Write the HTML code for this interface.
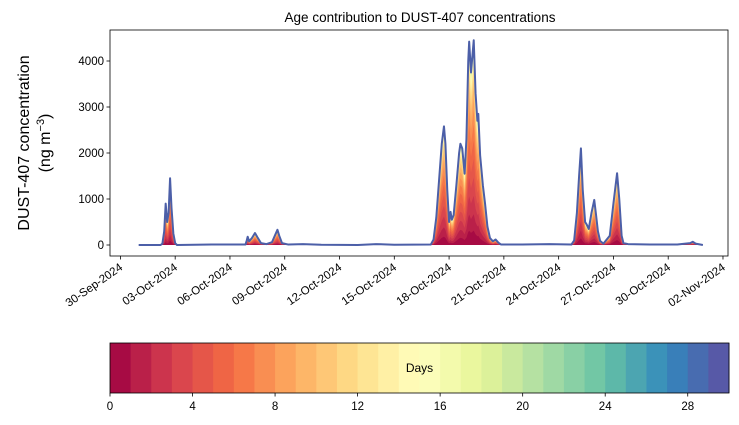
<!DOCTYPE html>
<html><head><meta charset="utf-8"><style>
html,body{margin:0;padding:0;background:#fff;}
svg{display:block;font-family:"Liberation Sans","DejaVu Sans",sans-serif;}
</style></head><body>
<svg id="chart" width="739" height="425" viewBox="0 0 739 425" xmlns="http://www.w3.org/2000/svg">
<text x="420" y="22" font-size="13.5" text-anchor="middle">Age contribution to DUST-407 concentrations</text>
<text transform="translate(29,143) rotate(-90)" font-size="16" text-anchor="middle">DUST-407 concentration</text>
<text transform="translate(50,143) rotate(-90)" font-size="16" text-anchor="middle">(ng m<tspan dy="-6" font-size="11">−3</tspan><tspan dy="6">)</tspan></text>
<g id="plot"></g>
<g id="axes"></g>
<g id="cbar"></g>
</svg>
<script>
const times=[1.0,2.2,2.3,2.4,2.48,2.56,2.64,2.72,2.8,2.9,3.0,3.1,5,6.85,6.92,6.97,7.05,7.2,7.37,7.5,7.7,8.0,8.3,8.5,8.6,8.7,8.85,9.2,10.0,11,13.0,14.0,15.0,17.0,17.15,17.3,17.45,17.6,17.72,17.8,17.9,18.0,18.08,18.15,18.25,18.4,18.55,18.62,18.72,18.85,18.95,19.05,19.1,19.2,19.35,19.45,19.55,19.6,19.7,19.85,19.97,20.1,20.24,20.4,20.55,20.7,20.85,22,23.5,24.7,24.85,25.0,25.12,25.22,25.32,25.45,25.53,25.65,25.8,25.95,26.05,26.15,26.27,26.45,26.8,27.0,27.2,27.32,27.45,27.55,27.8,29,30.5,31.2,31.35,31.5,31.9];
const totals=[0,0,30,300,900,500,700,1450,800,250,40,0,10,10,100,180,80,150,260,170,40,20,60,240,330,200,40,10,20,5,0,20,5,10,120,600,1400,2200,2580,2200,1200,500,720,550,650,1300,2000,2200,2100,1550,2300,4000,4420,3750,4450,3300,2700,2850,1950,1300,900,400,150,80,120,50,10,10,20,10,100,700,1500,2100,1200,500,450,350,700,980,650,300,90,30,200,900,1560,1000,200,40,20,10,10,40,70,30,0];
const cumShare=[0.07,0.15,0.24,0.33,0.42,0.51,0.59,0.66,0.72,0.77,0.81,0.85,0.88,0.905,0.925,0.94,0.952,0.962,0.97,0.976,0.981,0.985,0.988,0.991,0.993,0.995,0.997,0.998,0.999,1.0];
const yTicks=[0,1000,2000,3000,4000];
const xTickLabels=["30-Sep-2024","03-Oct-2024","06-Oct-2024","09-Oct-2024","12-Oct-2024","15-Oct-2024","18-Oct-2024","21-Oct-2024","24-Oct-2024","27-Oct-2024","30-Oct-2024","02-Nov-2024"];
const xTickDays=[0,3,6,9,12,15,18,21,24,27,30,33];
const cbTicks=[0,4,8,12,16,20,24,28];

const NS="http://www.w3.org/2000/svg";
const L=110,R=728,T=30,B=256;
const X=d=>120.4+d*18.26;
const Y=v=>245-v*0.046;
const stops=[[158,1,66],[213,62,79],[244,109,67],[253,174,97],[254,224,139],[255,255,191],[230,245,152],[171,221,164],[102,194,165],[50,136,189],[94,79,162]];
function spectral(f){const p=f*10,i=Math.min(9,Math.floor(p)),t=p-i;const a=stops[i],b=stops[i+1];return `rgb(${a.map((c,j)=>Math.round(c+(b[j]-c)*t)).join(',')})`;}
function mk(tag,attrs,parent){const e=document.createElementNS(NS,tag);for(const k in attrs)e.setAttribute(k,attrs[k]);parent.appendChild(e);return e;}

const plot=document.getElementById('plot');
for(let k=29;k>=0;k--){
  let d=`M${X(times[0])},${Y(0)}`;
  times.forEach((t,i)=>{d+=` L${X(t).toFixed(2)},${Y(totals[i]*cumShare[k]).toFixed(2)}`;});
  d+=` L${X(times[times.length-1])},${Y(0)} Z`;
  const p=mk('path',{d:d,fill:spectral((k+0.5)/30),stroke:'none'},plot);
  
  
}
let ld='';times.forEach((t,i)=>{ld+=(i?' L':'M')+X(t).toFixed(2)+','+Y(totals[i]).toFixed(2);});
const line=mk('path',{d:ld,fill:'none',stroke:'#4c5fa8','stroke-width':2,'stroke-linejoin':'round'},plot);



const ax=document.getElementById('axes');
const fr=mk('rect',{x:L,y:T,width:R-L,height:B-T,fill:'none',stroke:'#000','stroke-width':0.8},ax);


yTicks.forEach(v=>{
  mk('line',{x1:L-3.5,x2:L,y1:Y(v),y2:Y(v),stroke:'#000','stroke-width':0.8},ax);
  const t=mk('text',{x:L-6,y:Y(v)+4,'font-size':11.5,'text-anchor':'end'},ax);
  t.textContent=v;
  
  
});
xTickDays.forEach((d,i)=>{
  const x=X(d);
  mk('line',{x1:x,x2:x,y1:B,y2:B+3.5,stroke:'#000','stroke-width':0.8},ax);
  const t=mk('text',{transform:`translate(${x+3},${B+13}) rotate(-35)`,'font-size':11.5,'text-anchor':'end'},ax);
  t.textContent=xTickLabels[i];
  
  
});

const cb=document.getElementById('cbar');
const CL=110,CR=729,CT=343,CB=393;
const cx=v=>CL+v/30*(CR-CL);
for(let k=0;k<30;k++){
  const r=mk('rect',{x:cx(k),y:CT,width:(CR-CL)/30+0.5,height:CB-CT,fill:spectral((k+0.5)/30)},cb);
  
  
}
mk('rect',{x:CL,y:CT,width:CR-CL,height:CB-CT,fill:'none',stroke:'#000','stroke-width':0.8},cb);
const dl=mk('text',{x:(CL+CR)/2,y:372,'font-size':12,'text-anchor':'middle'},cb);
dl.textContent='Days';


cbTicks.forEach(v=>{
  mk('line',{x1:cx(v),x2:cx(v),y1:CB,y2:CB+3.5,stroke:'#000','stroke-width':0.8},cb);
  const t=mk('text',{x:cx(v),y:CB+17,'font-size':11.5,'text-anchor':'middle'},cb);
  t.textContent=v;
  
  
});
</script>
</body></html>
